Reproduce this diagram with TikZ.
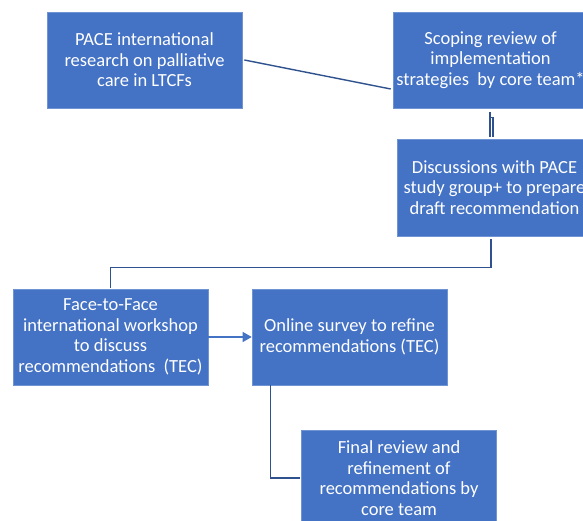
\documentclass[tikz,border=0pt]{standalone}
\usepackage{fontspec}
\setmainfont{Carlito}
\usepackage{xcolor}
\usepackage{tikz}
\usetikzlibrary{arrows.meta}

\begin{document}
\begin{tikzpicture}[x=1pt,y=1pt,
	stepbox/.style={fill=boxColor,draw=edgeColor,line width=0.6pt,text=white,align=center,
		minimum width=195pt,minimum height=96pt,inner sep=0pt,
		font=\fontsize{18.5}{20.5}\selectfont},
	link/.style={draw=lineColor,line width=1.4pt,line join=miter},
	feed/.style={draw=boxColor,line width=1.2pt,-{Triangle[length=9pt,width=10pt]}}]
\definecolor{boxColor}{RGB}{68,114,196}
\definecolor{edgeColor}{RGB}{110,148,212}
\definecolor{lineColor}{RGB}{47,82,143}
\definecolor{fillColor}{RGB}{255,255,255}
\path[use as bounding box,fill=fillColor] (0,0) rectangle (583,521);
\begin{scope}
\path[clip] (0,0) rectangle (583,521);

\node[stepbox] (pace) at (144.5,461) {PACE international\\research on palliative\\care in LTCFs};

\node[stepbox] (scoping) at (490.5,461) {Scoping review of\\implementation\\strategies\ \ by core team*};

\node[stepbox,minimum height=97pt] (discuss) at (494.5,333.5) {Discussions with PACE\\study group+ to prepare\\draft recommendation};

\node[stepbox] (workshop) at (110.5,184) {Face-to-Face\\international workshop\\to discuss\\recommendations\ \ (TEC)};

\node[stepbox] (survey) at (349.5,184) {Online survey to refine\\recommendations (TEC)};

\node[stepbox] (final) at (399,43) {Final review and\\refinement of\\recommendations by\\core team};

\path[link] ([xshift=2pt]pace.east) -- ([xshift=-2pt,yshift=-29pt]scoping.west);

\path[link] ([xshift=-0.5pt,yshift=-4pt]scoping.south) -- ([xshift=-4.5pt,yshift=2pt]discuss.north);

\path[link] ([xshift=-0.5pt,yshift=-9pt]scoping.south) -| ([xshift=-1.5pt,yshift=2pt]discuss.north);

\path[link] ([xshift=-3.5pt,yshift=-3pt]discuss.south) -- ++(0,-28) -| ([yshift=1pt]workshop.north);

\path[feed] (workshop.east) -- (survey.west);

\path[link] ([xshift=19pt]survey.south west) |- ([xshift=-1pt]final.west);
\end{scope}
\end{tikzpicture}
\end{document}
